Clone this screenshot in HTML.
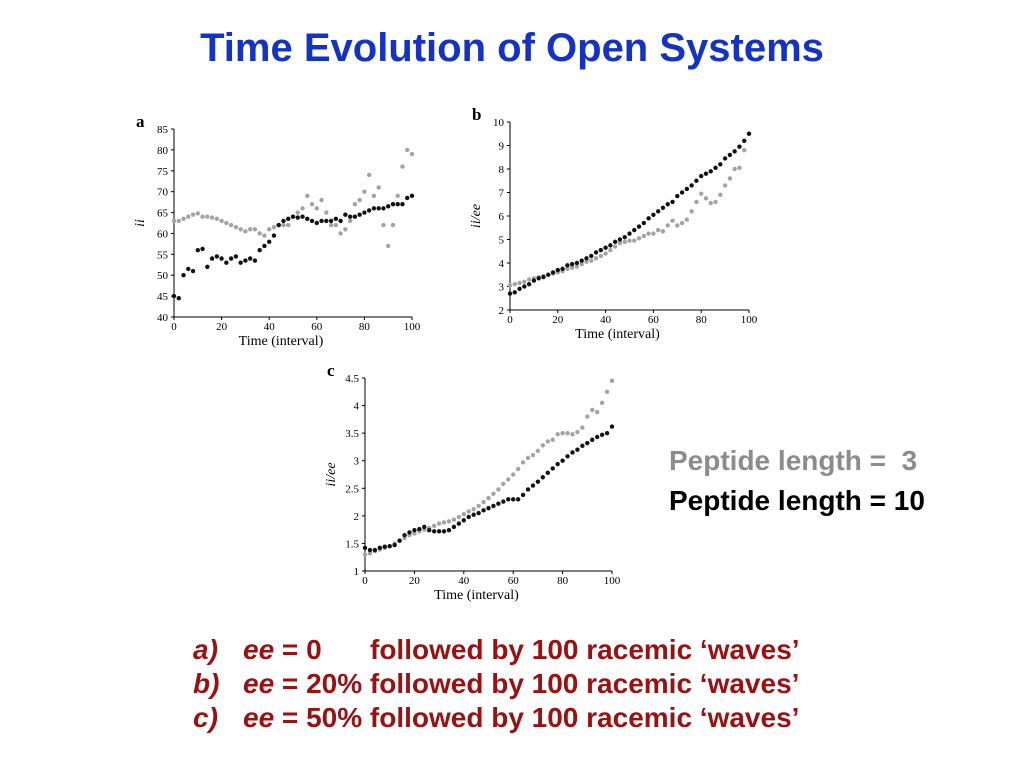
<!DOCTYPE html>
<html><head><meta charset="utf-8"><style>
body{margin:0;background:#fff;width:1024px;height:768px;overflow:hidden;position:relative;font-family:"Liberation Sans",sans-serif}
.t{position:absolute;white-space:nowrap}
</style></head><body>
<div class="t" style="left:0;width:1024px;text-align:center;top:26px;font-size:40px;font-weight:bold;color:#1232c8">Time Evolution of Open Systems</div>
<svg id="chart" width="1024" height="768" style="position:absolute;left:0;top:0" font-family="Liberation Serif,serif"></svg>
<div class="t" style="left:669px;top:445px;font-size:28px;font-weight:bold;color:#8c8c8c">Peptide length =&nbsp; 3</div>
<div class="t" style="left:669px;top:485px;font-size:28px;font-weight:bold;color:#000">Peptide length = 10</div>
<div style="position:absolute;left:193px;top:633px;font-size:28px;font-weight:bold;color:#9b1010;line-height:34px">
<div class="t" style="position:relative"><i>a)</i><span style="position:absolute;left:50px"><i>ee</i> = 0</span><span style="position:absolute;left:177px">followed by 100 racemic ‘waves’</span></div>
<div class="t" style="position:relative"><i>b)</i><span style="position:absolute;left:50px"><i>ee</i> = 20% followed by 100 racemic ‘waves’</span></div>
<div class="t" style="position:relative"><i>c)</i><span style="position:absolute;left:50px"><i>ee</i> = 50% followed by 100 racemic ‘waves’</span></div>
</div>
<script>
const xTicks=[0,20,40,60,80,100];
const aBlack=[45,44.5,50,51.5,51,56,56.3,52,54,54.5,54,53,54,54.5,53,53.5,54,53.5,56,57,58,59.5,62,63,63.5,64,63.8,64,63.5,63,62.5,63,63,63,63.5,63,64.5,64,64,64.5,65,65.5,66,66,66,66.5,67,67,67,68.5,69];
const aGray=[63,63,63.5,64,64.5,64.8,64,64,63.8,63.5,63,62.5,62,61.5,61,60.5,61,61,60,59.5,61,61.5,62,62,62,64,65,66,69,67,66,68,65,62,62,60,61,63,67,68,70,74,69,71,62,57,62,69,76,80,79];
const bBlack=[2.7,2.75,2.9,3.0,3.1,3.25,3.35,3.4,3.5,3.6,3.7,3.75,3.9,3.95,4.0,4.1,4.2,4.3,4.45,4.55,4.65,4.75,4.9,5.0,5.1,5.25,5.4,5.55,5.7,5.9,6.05,6.2,6.35,6.5,6.6,6.85,7.0,7.15,7.3,7.5,7.7,7.8,7.9,8.05,8.2,8.45,8.6,8.75,8.95,9.2,9.5];
const bGray=[3.05,3.1,3.15,3.2,3.3,3.35,3.4,3.45,3.5,3.55,3.6,3.65,3.75,3.8,3.85,3.95,4.05,4.1,4.2,4.3,4.4,4.55,4.7,4.85,4.9,4.95,4.95,5.05,5.15,5.25,5.25,5.4,5.35,5.6,5.8,5.6,5.7,5.85,6.2,6.6,6.95,6.75,6.55,6.6,6.9,7.3,7.6,8.0,8.05,8.8,9.5];
const cBlack=[1.42,1.38,1.38,1.42,1.44,1.45,1.47,1.55,1.65,1.7,1.74,1.76,1.8,1.74,1.72,1.72,1.72,1.74,1.8,1.86,1.92,1.98,2.02,2.05,2.1,2.14,2.18,2.22,2.26,2.3,2.3,2.3,2.38,2.48,2.55,2.62,2.7,2.78,2.86,2.94,3.0,3.08,3.15,3.2,3.27,3.32,3.38,3.43,3.47,3.5,3.62];
const cGray=[1.3,1.32,1.36,1.39,1.42,1.45,1.5,1.55,1.6,1.65,1.68,1.72,1.75,1.78,1.82,1.86,1.88,1.9,1.93,1.98,2.03,2.08,2.12,2.18,2.25,2.32,2.4,2.48,2.58,2.66,2.75,2.85,2.97,3.05,3.1,3.18,3.28,3.35,3.38,3.48,3.5,3.5,3.48,3.52,3.6,3.8,3.92,3.88,4.05,4.25,4.45];
const aYTicks=[40,45,50,55,60,65,70,75,80,85];
const bYTicks=[2,3,4,5,6,7,8,9,10];
const cYTicks=["1","1.5","2","2.5","3","3.5","4","4.5"];
const svg=document.getElementById('chart');
const NS='http://www.w3.org/2000/svg';
function mk(tag,attrs,txt){const e=document.createElementNS(NS,tag);for(const k in attrs)e.setAttribute(k,attrs[k]);if(txt!==undefined)e.textContent=txt;svg.appendChild(e);return e;}
function chart(id,letter,x0,x1,y0,y1,ymin,ymax,yTicks,ylabel,black,gray){
  const sx=v=>x0+(v/100)*(x1-x0);
  const sy=v=>y0-(v-ymin)/(ymax-ymin)*(y0-y1);
  let e=mk('line',{x1:x0,y1:y0,x2:x1,y2:y0,stroke:'#000','stroke-width':1});
  
  
  e=mk('line',{x1:x0,y1:y0,x2:x0,y2:y1,stroke:'#000','stroke-width':1});
  
  
  xTicks.forEach(t=>{
    mk('line',{x1:sx(t),y1:y0,x2:sx(t),y2:y0+3,stroke:'#000'});
    e=mk('text',{x:sx(t),y:y0+13,'font-size':11,'text-anchor':'middle'},t);
    
    
  });
  yTicks.forEach(t=>{
    const v=parseFloat(t);
    mk('line',{x1:x0-3,y1:sy(v),x2:x0,y2:sy(v),stroke:'#000'});
    e=mk('text',{x:x0-6,y:sy(v)+4,'font-size':11,'text-anchor':'end'},t);
    
    
  });
  e=mk('text',{x:(x0+x1)/2-12,y:y0+28,'font-size':14,'text-anchor':'middle'},'Time (interval)');
  
  
  const ly=(y0+y1)/2;
  e=mk('text',{x:x0-30,y:ly,'font-size':14,'font-style':'italic','text-anchor':'middle',transform:`rotate(-90 ${x0-30} ${ly})`},ylabel);
  
  
  e=mk('text',{x:x0-38,y:y1-2,'font-size':17,'font-weight':'bold'},letter);
  
  
  gray.forEach((v,i)=>{e=mk('circle',{cx:sx(i*2),cy:sy(v),r:2.2,fill:'#a3a3a3'});
    
    });
  black.forEach((v,i)=>{e=mk('circle',{cx:sx(i*2),cy:sy(v),r:2.2,fill:'#111'});
    
    });
}
chart('chart-a','a',174,412,317,129,40,85,aYTicks,'ii',aBlack,aGray);
chart('chart-b','b',510,749,310,122,2,10,bYTicks,'ii/ee',bBlack,bGray);
chart('chart-c','c',365,612,571,378,1,4.5,cYTicks,'ii/ee',cBlack,cGray);
</script>
</body></html>
